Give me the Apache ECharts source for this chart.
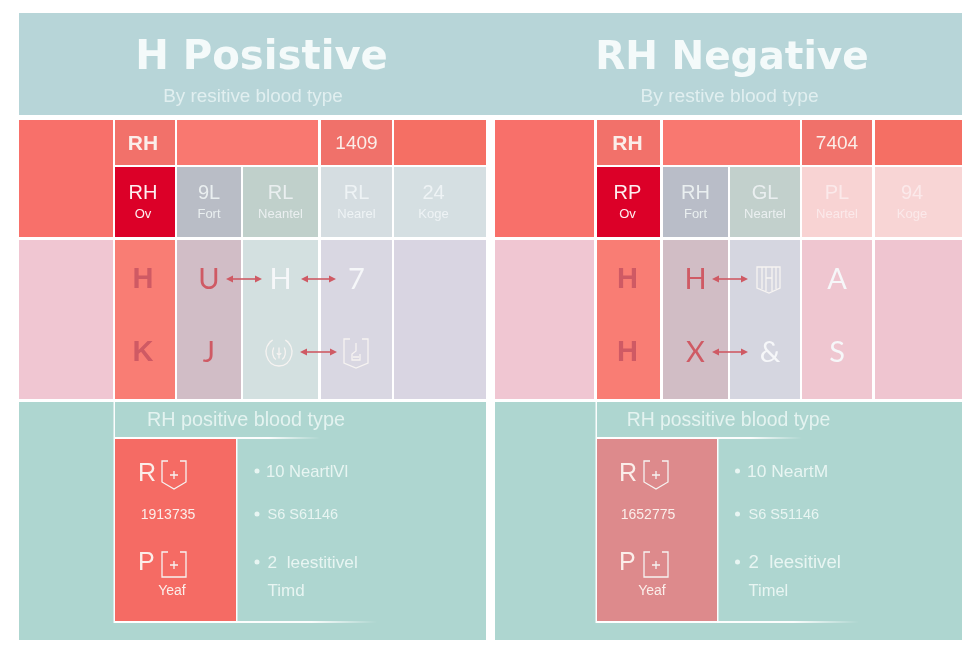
<!DOCTYPE html>
<html><head><meta charset="utf-8">
<style>html,body{margin:0;padding:0;background:#fff}#c{width:980px;height:653px}</style>
<script src="https://cdn.jsdelivr.net/npm/echarts@6/dist/echarts.min.js"></script>
</head><body><div id="c"></div>
<script>
// ---- text content ----
const titles = ['H Posistive', 'RH Negative'];
const subtitles = ['By resitive blood type', 'By restive blood type'];
const row1Codes = ['1409', '7404'];
const row2Top = [['RH','9L','RL','RL','24'], ['RP','RH','GL','PL','94']];
const row2Sub = [['Ov','Fort','Neantel','Nearel','Koge'], ['Ov','Fort','Neartel','Neartel','Koge']];
const symbolRow1 = [['H','U','H','7'], ['H','H','','A']];
const symbolRow2 = [['K','J','','' ], ['H','X','&','S']];
const sectionTitles = ['RH positive blood type', 'RH possitive blood type'];
const blockNumbers = ['1913735', '1652775'];
const blockLetters = ['R', 'P'];
const blockCaption = 'Yeaf';
const listLines = [['10 NeartlVl','S6 S61146','2  leestitivel','Timd'], ['10 NeartM','S6 S51146','2  leesitivel','Timel']];

// ---- colours per panel ----
const row2Colors = [['#dc0028','#b9bdc6','#c0d0cb','#d5dde1','#d5dfe2'], ['#dc0028','#b9bdc8','#c2d0cc','#f8d3d3','#f8d5d5']];
const row3Colors = [['#f0c6d2','#f97d74','#d1bdc6','#d3e0e0','#d9d7e2','#d9d5e2'], ['#f0c6d2','#f97d74','#d1bdc5','#d5d6e0','#efc6d0','#efc5d0']];
const blockColors = ['#f56b64', '#dd8a8c'];

// ---- layout edges (axis units) ----
const xEdges = [
  [19,113,115,175,177,241,243,318,321,392,394,486],
  [495,594,597,660,663,728,730,800,802,872,875,962]
];
const yEdges = [13,115,120,165,167,237,240,399,402,640];

// ---- per-panel fine sizing ----
const titleSizes = [40.2, 39];
const titleCenters = [261.5, 732];
const subSizes = [18.9, 19.2];
const subCenters = [253, 729.5];
const sectionSizes = [19.8, 19.4];
const sectionCenters = [246, 728.5];
const listSizes = [[16.6,14.5,17.3,17],[17.4,14.5,18.7,16.5]];

const cells=[], texts=[], icons=[], arrows=[], fades=[];
const C = '#cf5a64';
function cell(x0,x1,y0,y1,fill){cells.push({x0,x1,y0,y1,fill});}
function text(x,y,t,size,fill,opt){texts.push(Object.assign({x,y,t,size,fill,align:'center',family:'"Liberation Sans"',weight:'normal'},opt||{}));}

cell(19,962,yEdges[0],yEdges[1],'#b7d5d8');
[0,1].forEach(p=>{
  const e=xEdges[p], cx=i=>(e[i*2]+e[i*2+1])/2;
  const c1=p===0?-2:-1;
  text(titleCenters[p], 58, titles[p], titleSizes[p], '#f4fafa', {family:'"DejaVu Sans"',weight:'bold'});
  text(subCenters[p], 96, subtitles[p], subSizes[p], '#e1eff0', {});
  // left tall block and row 1
  cell(e[0],e[1],yEdges[2],yEdges[5],'#f8706a');
  cell(e[2],e[3],yEdges[2],yEdges[3],'#f2716a');
  cell(e[4],e[7],yEdges[2],yEdges[3],'#f97870');
  cell(e[8],e[9],yEdges[2],yEdges[3],'#f0716a');
  cell(e[10],e[11],yEdges[2],yEdges[3],'#f56f64');
  text(cx(1)+c1,143,'RH',21,'#fbeeea',{weight:'bold'});
  text(cx(4),143,row1Codes[p],19,'#fbeee9');
  // row 2
  row2Colors[p].forEach((col,i)=>{
    const k=i+1, dx=k===5?-6.5:(k===1?c1:0);
    cell(e[k*2],e[k*2+1],yEdges[4],yEdges[5],col);
    const tone = i===0?'#fdeef0':(i>=3?'#eef3f5':'#eaeff0');
    text(cx(k)+dx,192,row2Top[p][i],20,p===1&&i>=3?'#fbe9ea':tone);
    text(cx(k)+dx,213,row2Sub[p][i],13,p===1&&i>=3?'#fbe9ea':tone);
  });
  // row 3
  row3Colors[p].forEach((col,i)=>cell(e[i*2],e[i*2+1],yEdges[6],yEdges[7],col));
  [symbolRow1[p],symbolRow2[p]].forEach((row,r)=>{
    const y=r===0?279:352;
    row.forEach((s,i)=>{
      if(!s) return;
      const k=i+1, red=i<2;
      const x=cx(k)+(i===0?c1:0)+(s==='&'?5:0);
      text(x,y,s,29,red?C:'#f6f7f9',{weight:i===0?'bold':'normal',family:i===0?'"Liberation Sans"':'"Lato"'});
    });
  });
  // arrows
  if(p===0){arrows.push([226,262,279],[301,336,279],[300,337,352]);}
  else {arrows.push([712,748,279],[712,748,352]);}
  // bottom section
  cell(e[0],e[11],yEdges[8],yEdges[9],'#aed6d0');
  const bx0=e[2], bx1=bx0+(p===0?121:120);
  cell(bx0,bx1,439,621,blockColors[p]);
  fades.push({x0:bx0-1.5,x1:bx0,y0:402,y1:623,solid:true});
  fades.push({x0:bx1,x1:bx1+1.5,y0:438,y1:623,solid:true});
  fades.push({x0:bx0,x1:bx0+205,y0:437,y1:439,solid:false});
  fades.push({x0:bx0,x1:bx0+262,y0:621,y1:623,solid:false});
  text(sectionCenters[p],420,sectionTitles[p],sectionSizes[p],'#e4f3f0');
  const lx=e[2]+23-(p===0?0:1), ix=e[2]+47;
  text(lx,473,blockLetters[0],25,'#fbeeea',{align:'left'});
  text(lx,562,blockLetters[1],25,'#fbeeea',{align:'left'});
  icons.push({kind:'shieldPlus',x:ix,y:461,w:24,h:28});
  icons.push({kind:'boxPlus',x:ix,y:552,w:24,h:25});
  text(p===0?168:648,514,blockNumbers[p],14,'#fbeeea');
  text(p===0?172:652,590,blockCaption,14,'#fbeeea');
  const bulX=p===0?257:737.5, tx=p===0?266:747;
  [471,514,562,590].forEach((y,i)=>{
    text(tx+(i>0?1.5:0),y,listLines[p][i],listSizes[p][i],'#e8f5f2',{align:'left'});
    if(i<3) cells.push({dot:true,x:bulX,y,fill:'#e8f5f2'});
  });
});
icons.push({kind:'horseshoe',x:266,y:340,w:26,h:26});
icons.push({kind:'shieldBottle',x:344,y:339,w:24,h:29});
icons.push({kind:'shieldH',x:757,y:267,w:23,h:26});

const iconPaths={
  shieldPlus:'M6 0H0V21L12 28L24 21V0H18M12 10V18M8 14H16',
  boxPlus:'M6 0H0V25H24V0H18M12 9V17M8 13H16',
  horseshoe:'M7 1C1 5 0 10 1 15C3 22 8 25 13 25C18 25 23 22 25 15C26 10 25 5 19 1M7 1L4 3M19 1L22 3M8 8C6 12 7 17 10 19M18 8C20 12 19 17 16 19M13 8V18M11 13C12 15 14 15 15 13',
  shieldBottle:'M6 0H0V24L12 29L24 24V0H18M12 4V12L8 15V21H16V15M9 18H15',
  shieldH:'M0 0H23V21L12 26L0 21ZM5 0V22M9 0V24M15 0V24M19 0V22M9 11H15'
};

const opt={
  animation:false,
  backgroundColor:'#ffffff',
  grid:{left:0,top:0,right:0,bottom:0},
  xAxis:{type:'value',min:0,max:980,show:false},
  yAxis:{type:'value',min:0,max:653,inverse:true,show:false},
  series:[
    {type:'custom',name:'cells',clip:false,silent:true,coordinateSystem:'cartesian2d',data:cells.map((_,i)=>[i,0]),
     renderItem(par,api){
       const d=cells[par.dataIndex];
       if(d.dot){const c=api.coord([d.x,d.y]);return {type:'circle',shape:{cx:c[0],cy:c[1],r:2.5},style:{fill:d.fill}};}
       const a=api.coord([d.x0,d.y0]),b=api.coord([d.x1,d.y1]);
       return {type:'rect',shape:{x:a[0],y:a[1],width:b[0]-a[0],height:b[1]-a[1]},style:{fill:d.fill}};
     }},
    {type:'custom',name:'rules',clip:false,silent:true,data:fades.map((_,i)=>[i,0]),
     renderItem(par,api){
       const d=fades[par.dataIndex];
       const a=api.coord([d.x0,d.y0]),b=api.coord([d.x1,d.y1]);
       const fill=d.solid?'rgba(255,255,255,.95)':new echarts.graphic.LinearGradient(0,0,1,0,[{offset:0,color:'rgba(255,255,255,1)'},{offset:.75,color:'rgba(255,255,255,.95)'},{offset:1,color:'rgba(255,255,255,0)'}]);
       return {type:'rect',shape:{x:a[0],y:a[1],width:b[0]-a[0],height:b[1]-a[1]},style:{fill}};
     }},
    {type:'custom',name:'arrows',clip:false,silent:true,data:arrows.map((_,i)=>[i,0]),
     renderItem(par,api){
       const d=arrows[par.dataIndex];
       const a=api.coord([d[0],d[2]]),b=api.coord([d[1],d[2]]);
       const s={fill:C};
       return {type:'group',children:[
         {type:'rect',shape:{x:a[0]+3,y:a[1]-.8,width:b[0]-a[0]-6,height:1.6},style:s},
         {type:'polygon',shape:{points:[[a[0],a[1]],[a[0]+7,a[1]-3.5],[a[0]+7,a[1]+3.5]]},style:s},
         {type:'polygon',shape:{points:[[b[0],b[1]],[b[0]-7,b[1]-3.5],[b[0]-7,b[1]+3.5]]},style:s}
       ]};
     }},
    {type:'custom',name:'icons',clip:false,silent:true,data:icons.map((_,i)=>[i,0]),
     renderItem(par,api){
       const d=icons[par.dataIndex];
       const a=api.coord([d.x,d.y]);
       return {type:'path',shape:{pathData:iconPaths[d.kind],x:a[0],y:a[1],width:d.w,height:d.h,layout:'cover'},
         style:{fill:null,stroke:'#f6f3f1',lineWidth:1.3}};
     }},
    {type:'custom',name:'labels',clip:false,silent:true,data:texts.map((_,i)=>[i,0]),
     renderItem(par,api){
       const d=texts[par.dataIndex];
       const c=api.coord([d.x,d.y]);
       return {type:'text',style:{text:d.t,x:c[0],y:c[1]+1,fill:d.fill,fontSize:d.size,fontFamily:d.family,fontWeight:d.weight,align:d.align,verticalAlign:'middle'}};
     }}
  ]
};
echarts.init(document.getElementById('c'),null,{renderer:'canvas'}).setOption(opt);
</script></body></html>
